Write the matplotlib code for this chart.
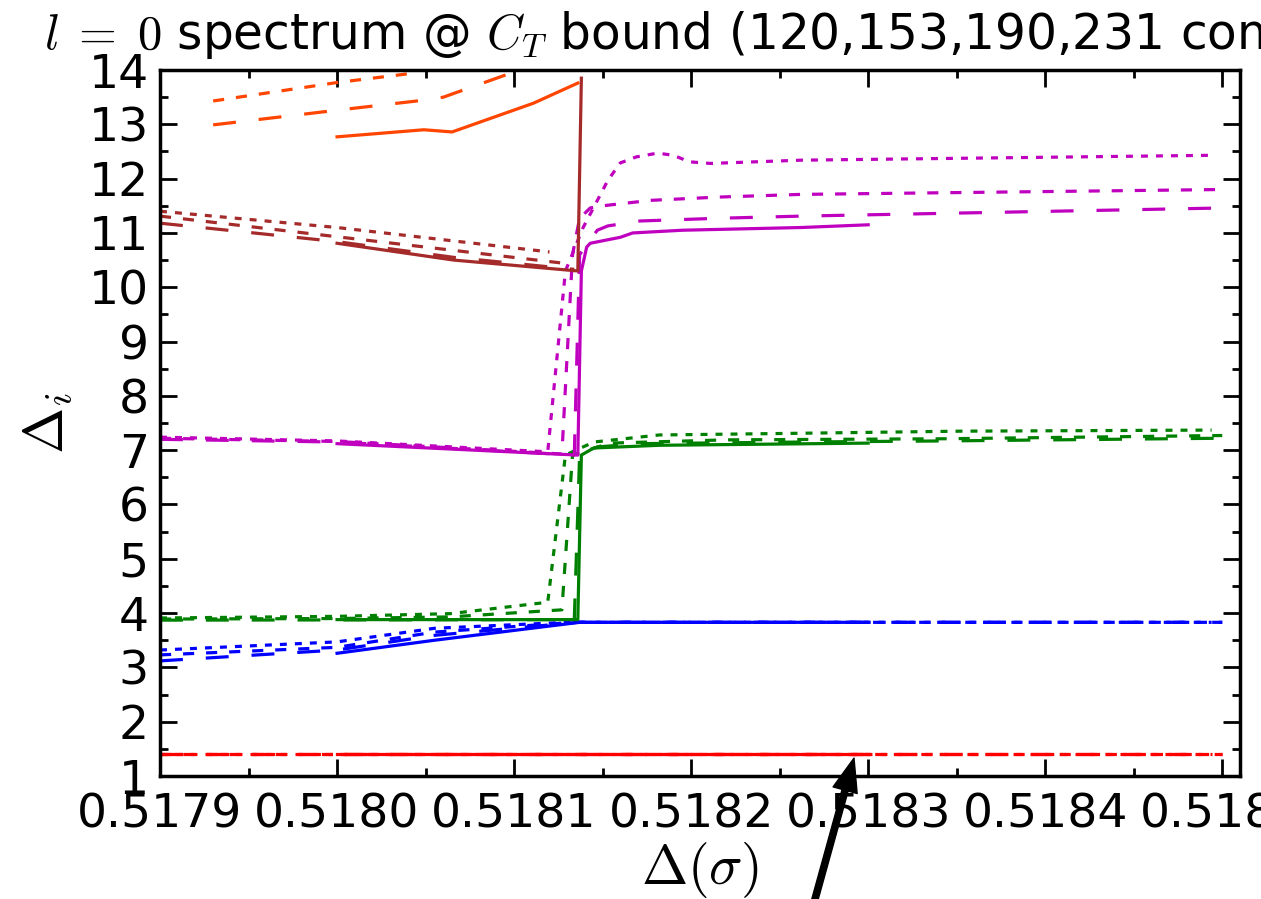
import numpy as np
import matplotlib as mpl
mpl.use("Agg")
import matplotlib.pyplot as plt

mpl.rcParams["mathtext.fontset"] = "cm"
mpl.rcParams["font.family"] = "DejaVu Sans"
mpl.rcParams["lines.scale_dashes"] = False
mpl.rcParams["xtick.direction"] = "in"
mpl.rcParams["ytick.direction"] = "in"

# spectrum lines, one set per number of components
# 120 comps (short dashes)
x120_red = [0.51790, 0.518494]
y120_red = [1.41, 1.41]
x120_blue = [0.51790, 0.51800, 0.518055, 0.518130, 0.518494]
y120_blue = [3.32, 3.47, 3.72, 3.83, 3.83]
x120_green = [0.51790, 0.51800, 0.518064, 0.518119, 0.518129, 0.518145, 0.518182, 0.518258, 0.518352, 0.518494]
y120_green = [3.91, 3.94, 3.99, 4.20, 6.91, 7.15, 7.28, 7.31, 7.35, 7.37]
x120_mag = [0.51790, 0.51800, 0.518119, 0.518129, 0.518139, 0.518153, 0.518160, 0.518169,
            0.518181, 0.518190, 0.518199, 0.518211, 0.518262, 0.518494]
y120_mag = [7.24, 7.17, 6.97, 10.3, 11.1, 11.97, 12.29, 12.40, 12.47, 12.43, 12.31, 12.28, 12.34, 12.43]
x120_brown = [0.51790, 0.51800, 0.518120]
y120_brown = [11.40, 11.10, 10.65]

# 153 comps (medium dashes)
x153_red = [0.51790, 0.51850]
y153_red = [1.41, 1.41]
x153_blue = [0.51790, 0.51800, 0.518055, 0.518134, 0.51850]
y153_blue = [3.23, 3.37, 3.65, 3.83, 3.83]
x153_green = [0.51790, 0.51800, 0.518064, 0.518127, 0.518133, 0.518154, 0.518220, 0.518342, 0.51850]
y153_green = [3.89, 3.90, 3.93, 4.06, 6.91, 7.13, 7.19, 7.21, 7.27]
x153_mag = [0.51790, 0.51800, 0.518127, 0.518133, 0.518137, 0.518143, 0.518150, 0.518177,
            0.518215, 0.518262, 0.51850]
y153_mag = [7.22, 7.16, 6.93, 10.6, 11.27, 11.46, 11.50, 11.60, 11.66, 11.71, 11.80]
x153_brown = [0.51790, 0.51800, 0.518126]
y153_brown = [11.31, 10.93, 10.45]
x153_orange = [0.51793, 0.51800, 0.518040, 0.518046]
y153_orange = [13.43, 13.77, 13.93, 13.97]

# 190 comps (long dashes)
x190_red = [0.51790, 0.51850]
y190_red = [1.41, 1.41]
x190_blue = [0.51790, 0.51800, 0.518055, 0.518136, 0.51850]
y190_blue = [3.12, 3.32, 3.59, 3.83, 3.83]
x190_green = [0.51790, 0.518134, 0.518137, 0.518147, 0.518171, 0.518262, 0.518342, 0.51850]
y190_green = [3.87, 3.88, 6.90, 7.06, 7.12, 7.15, 7.17, 7.22]
x190_mag = [0.51790, 0.51800, 0.518134, 0.518137, 0.518147, 0.518153, 0.518171, 0.518215, 0.518262, 0.51850]
y190_mag = [7.20, 7.15, 6.91, 10.6, 11.05, 11.13, 11.22, 11.27, 11.31, 11.46]
x190_brown = [0.51790, 0.51800, 0.518066, 0.518134]
y190_brown = [11.18, 10.84, 10.55, 10.33]
x190_orange = [0.51793, 0.51800, 0.518045, 0.518060, 0.518097]
y190_orange = [12.99, 13.26, 13.43, 13.50, 13.93]

# 231 comps (solid)
x231_red = [0.51800, 0.51830]
y231_red = [1.41, 1.41]
x231_blue = [0.51800, 0.518055, 0.518137, 0.51830]
y231_blue = [3.26, 3.50, 3.83, 3.83]
x231_green = [0.51800, 0.518136, 0.518138, 0.518145, 0.518182, 0.51830]
y231_green = [3.88, 3.88, 6.91, 7.04, 7.09, 7.13]
x231_mag = [0.51800, 0.518136, 0.518138, 0.518141, 0.518143, 0.518160, 0.518167, 0.518195, 0.518262, 0.51830]
y231_mag = [7.12, 6.91, 10.3, 10.74, 10.81, 10.92, 11.0, 11.05, 11.10, 11.15]
x231_brown = [0.51800, 0.518066, 0.518136, 0.518138]
y231_brown = [10.81, 10.50, 10.30, 13.85]
x231_orange = [0.51800, 0.518049, 0.518065, 0.518111, 0.518136]
y231_orange = [12.77, 12.90, 12.86, 13.39, 13.76]

colors = {"red": "#ff0000", "blue": "#0000ff", "green": "#008000",
          "mag": "#bf00bf", "brown": "#a52a2a", "orange": "#ff4500"}

short = (5, 5.8)
medium = (8, 8.6)
longd = (16.5, 16.5)

fig = plt.figure(figsize=(12.61, 8.99), dpi=100)
ax = fig.add_axes([0.1269, 0.1368, 0.8564, 0.7853])

lw = 2.3
sets = [
    (short, [("red", x120_red, y120_red), ("blue", x120_blue, y120_blue),
             ("green", x120_green, y120_green), ("mag", x120_mag, y120_mag),
             ("brown", x120_brown, y120_brown)]),
    (medium, [("red", x153_red, y153_red), ("blue", x153_blue, y153_blue),
              ("green", x153_green, y153_green), ("mag", x153_mag, y153_mag),
              ("brown", x153_brown, y153_brown), ("orange", x153_orange, y153_orange)]),
    (longd, [("red", x190_red, y190_red), ("blue", x190_blue, y190_blue),
             ("green", x190_green, y190_green), ("mag", x190_mag, y190_mag),
             ("brown", x190_brown, y190_brown), ("orange", x190_orange, y190_orange)]),
    (None, [("red", x231_red, y231_red), ("blue", x231_blue, y231_blue),
            ("green", x231_green, y231_green), ("mag", x231_mag, y231_mag),
            ("brown", x231_brown, y231_brown), ("orange", x231_orange, y231_orange)]),
]
for dash, lines in sets:
    for c, xs, ys in lines:
        l, = ax.plot(xs, ys, color=colors[c], lw=lw)
        if dash is not None:
            l.set_dashes(dash)

ax.set_xlim(0.5179, 0.51851)
ax.set_ylim(1, 14)
ax.xaxis.set_major_locator(mpl.ticker.MultipleLocator(0.0001))
ax.xaxis.set_minor_locator(mpl.ticker.MultipleLocator(0.00005))
ax.yaxis.set_major_locator(mpl.ticker.MultipleLocator(1))
ax.yaxis.set_minor_locator(mpl.ticker.MultipleLocator(0.5))
ax.xaxis.set_major_formatter(mpl.ticker.FormatStrFormatter("%.4f"))
ax.tick_params(which="both", top=True, right=True, width=2)
ax.tick_params(which="major", length=12)
ax.tick_params(which="minor", length=6)
ax.tick_params(axis="x", labelsize=34, pad=12)
ax.tick_params(axis="y", labelsize=34, pad=8)
for s in ax.spines.values():
    s.set_linewidth(2.5)

ax.set_xlabel(r"$\Delta(\sigma)$", fontsize=40, labelpad=2)
ax.set_ylabel(r"$\Delta_i$", fontsize=40, labelpad=10)
# title is wider than the figure in the original, so it runs off the right edge
ax.set_title(r"$l\;=\;0$ spectrum @ $C_T$ bound (120,153,190,231 comps)", fontsize=35, pad=15)

ax.annotate("", xy=(0.518292, 1.33), xytext=(0.518268, -1.5),
            arrowprops=dict(facecolor="black", edgecolor="black", width=4.5,
                            headwidth=18, headlength=24, shrink=0),
            annotation_clip=False)

fig.savefig("out.png", dpi=100)
